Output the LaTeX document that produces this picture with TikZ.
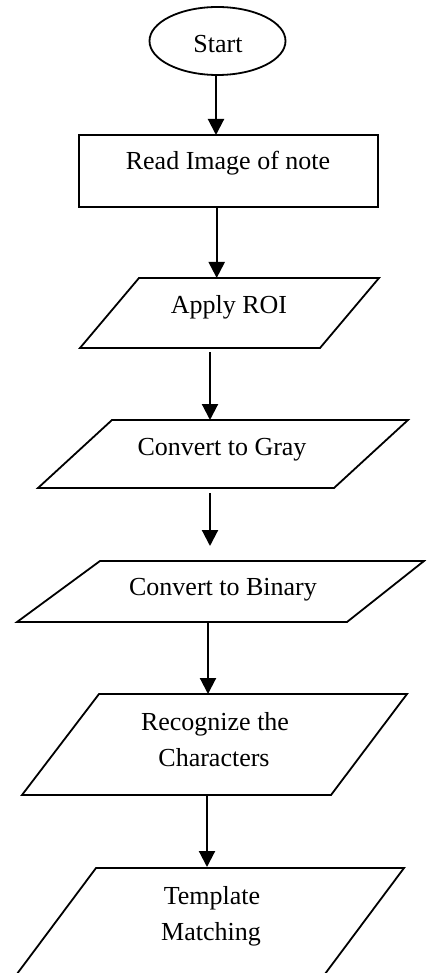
\documentclass[tikz,border=0pt]{standalone}
\usepackage{fontspec}
\setmainfont{Liberation Serif}
\usetikzlibrary{arrows.meta}
\begin{document}
\begin{tikzpicture}[x=1pt,y=-1pt,
  shapeline/.style={line width=1.8pt},
  arr/.style={line width=2.1pt,-{Triangle[width=16pt,length=16pt]}},
  lbl/.style={font=\fontsize{26}{36}\selectfont, anchor=base, inner sep=0pt},
]
\useasboundingbox (0,0) rectangle (426,973);
\clip (0,0) rectangle (426,973);

% shapes
\draw[shapeline] (217.5,41) ellipse [x radius=68, y radius=34];
\draw[shapeline] (79,135) rectangle (378,207);
\draw[shapeline] (139,278) -- (379,278) -- (320,348) -- (80,348) -- cycle;
\draw[shapeline] (112,420) -- (408,420) -- (334,488) -- (38,488) -- cycle;
\draw[shapeline] (100,561) -- (424,561) -- (347,622) -- (17,622) -- cycle;
\draw[shapeline] (99,694) -- (407,694) -- (331,795) -- (22,795) -- cycle;
\draw[shapeline] (96,868) -- (404,868) -- (313,990) -- (5,990) -- cycle;

% labels
\node[lbl] (start) at (218,53) {Start};
\node[lbl] (read) at (228,170) {Read Image of note};
\node[lbl] (roi) at (229,313) {Apply ROI};
\node[lbl] (gray) at (222,455) {Convert to Gray};
\node[lbl] (binary) at (223,595) {Convert to Binary};
\node[lbl] (rec1) at (215,730) {Recognize the};
\node[lbl] (rec2) at (214,766) {Characters};
\node[lbl] (tm1) at (212,904) {Template};
\node[lbl] (tm2) at (211,940) {Matching};

% connector end points
\coordinate (s1) at (216,75);   \coordinate (e1) at (216,135);
\coordinate (s2) at (216.7,207);\coordinate (e2) at (216.7,278);
\coordinate (s3) at (210,352);  \coordinate (e3) at (210,420);
\coordinate (s4) at (210,493);  \coordinate (e4) at (210,546);
\coordinate (s5) at (208,622);  \coordinate (e5) at (208,694);
\coordinate (s6) at (207,795);  \coordinate (e6) at (207,867);

\draw[arr] (s1) -- (e1);
\draw[arr] (s2) -- (e2);
\draw[arr] (s3) -- (e3);
\draw[arr] (s4) -- (e4);
\draw[arr] (s5) -- (e5);
\draw[arr] (s6) -- (e6);
\end{tikzpicture}
\end{document}
